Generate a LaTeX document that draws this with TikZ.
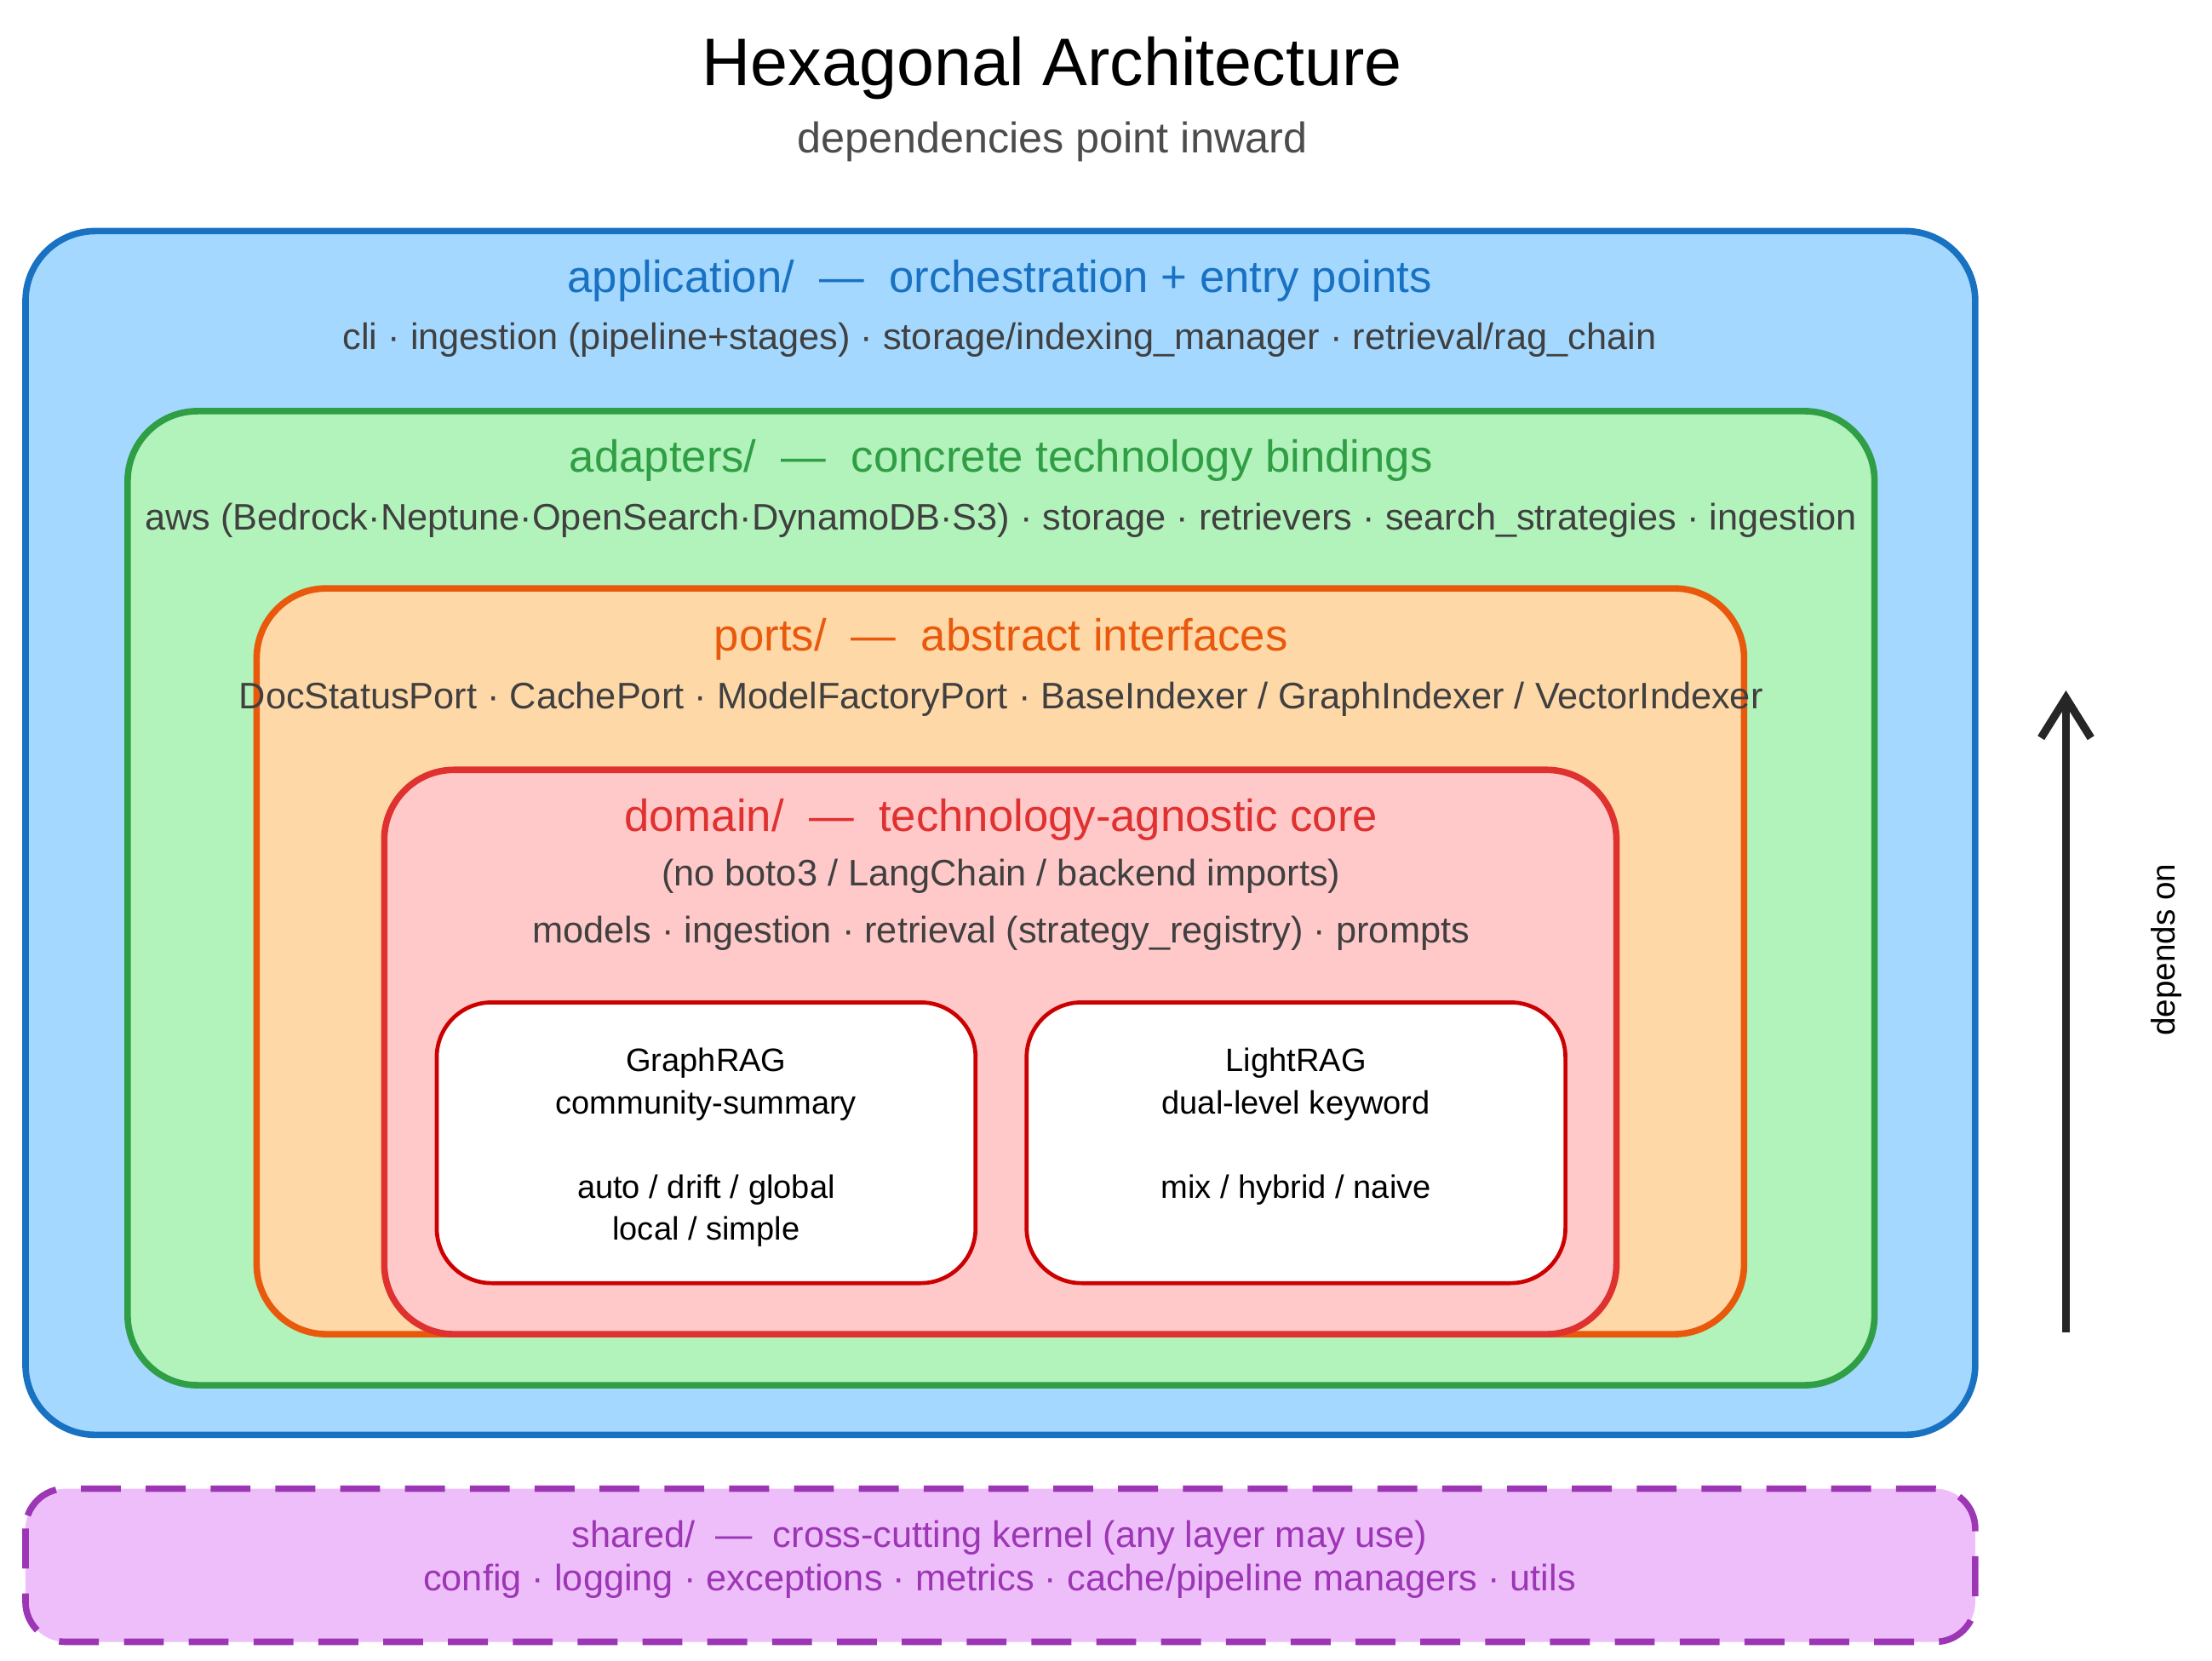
\documentclass[tikz,border=0pt]{standalone}
\usetikzlibrary{arrows.meta}
\usepackage{fontspec}
\setmainfont{Liberation Sans}
\begin{document}
\begin{tikzpicture}[x=0.01cm,y=-0.01cm,
 box/.style={draw,line width=1.3pt,rounded corners=14pt},
 ttl/.style={font=\fontsize{9}{11}\selectfont},
 txt/.style={font=\fontsize{7.4}{9}\selectfont,text=black!75},
 inner/.style={box,draw=red!80!black,fill=white,line width=0.8pt,rounded corners=11pt},
 itxt/.style={align=center,font=\fontsize{6.5}{8.4}\selectfont,anchor=north}]
\useasboundingbox (0,0) rectangle (1560,1171);
\node[font=\fontsize{13.5}{16}\selectfont] (title) at (742,48) {Hexagonal Architecture};
\node[font=\fontsize{8.6}{10}\selectfont,text=black!70] (sub) at (742,100) {dependencies point inward};
\draw[box,draw={rgb,255:red,25;green,113;blue,194},fill={rgb,255:red,165;green,216;blue,255}] (18,163) rectangle (1393,1012);
\node[ttl,text={rgb,255:red,25;green,113;blue,194}] (appt) at (705,198) {application/ \ — \ orchestration + entry points};
\node[txt] (appx) at (705,240) {cli · ingestion (pipeline+stages) · storage/indexing\_manager · retrieval/rag\_chain};
\draw[box,draw={rgb,255:red,47;green,158;blue,68},fill={rgb,255:red,178;green,242;blue,187}] (90,290) rectangle (1322,977);
\node[ttl,text={rgb,255:red,47;green,158;blue,68}] (adt) at (706,325) {adapters/ \ — \ concrete technology bindings};
\node[txt] (adx) at (706,367) {aws (Bedrock·Neptune·OpenSearch·DynamoDB·S3) · storage · retrievers · search\_strategies · ingestion};
\draw[box,draw={rgb,255:red,232;green,89;blue,12},fill={rgb,255:red,255;green,216;blue,168}] (181,415) rectangle (1230,941);
\node[ttl,text={rgb,255:red,232;green,89;blue,12}] (pt) at (706,451) {ports/ \ — \ abstract interfaces};
\node[txt] (px) at (706,493) {DocStatusPort · CachePort · ModelFactoryPort · BaseIndexer / GraphIndexer / VectorIndexer};
\draw[box,draw={rgb,255:red,224;green,49;blue,49},fill={rgb,255:red,255;green,201;blue,201}] (271,543) rectangle (1140,941);
\node[ttl,text={rgb,255:red,224;green,49;blue,49}] (dt) at (706,578) {domain/ \ — \ technology-agnostic core};
\node[txt] (dx1) at (706,618) {(no boto3 / LangChain / backend imports)};
\node[txt] (dx2) at (706,658) {models · ingestion · retrieval (strategy\_registry) · prompts};
\node[inner,minimum width=380*0.01cm,minimum height=198*0.01cm] (g) at (498,806) {};
\node[inner,minimum width=380*0.01cm,minimum height=198*0.01cm] (l) at (914,806) {};
\node[itxt] (gt) at (498,727) {GraphRAG\\community-summary\\[8.5pt]auto / drift / global\\local / simple};
\node[itxt] (lt) at (914,727) {LightRAG\\dual-level keyword\\[8.5pt]mix / hybrid / naive};
\coordinate (a1) at (1457,940);
\coordinate (a2) at (1457,487);
\draw[line width=1.6pt,-{Straight Barb[length=8pt,width=10pt]},black!85] (a1) -- (a2);
\node[rotate=90,font=\fontsize{6.6}{8}\selectfont] (dep) at (1528,670) {depends on};
\draw[box,rounded corners=8pt,dash pattern=on 8pt off 5pt,draw={rgb,255:red,156;green,54;blue,181},fill={rgb,255:red,238;green,190;blue,250}] (18,1050) rectangle (1393,1158);
\node[font=\fontsize{7.4}{8.6}\selectfont,text={rgb,255:red,156;green,54;blue,181},align=center] (sh) at (705,1100) {shared/ \ — \ cross-cutting kernel (any layer may use)\\config · logging · exceptions · metrics · cache/pipeline managers · utils};
\end{tikzpicture}
\end{document}
